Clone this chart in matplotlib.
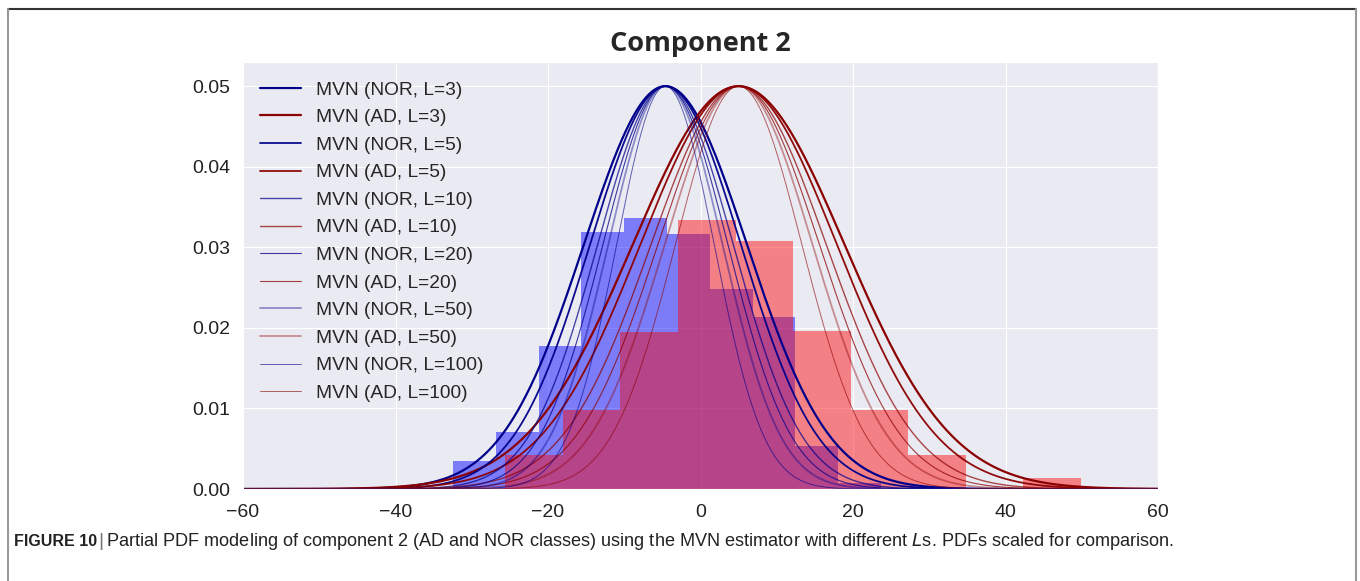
import numpy as np
import matplotlib
matplotlib.use('Agg')
import matplotlib.pyplot as plt
import seaborn as sns
from matplotlib.lines import Line2D

sns.set_style('darkgrid')
plt.rcParams['font.family'] = ['Liberation Sans', 'DejaVu Sans']

# Histogram data
nor_edges = [-32.45, -26.84, -21.23, -15.62, -10.01, -4.40, 1.21, 6.82, 12.43, 18.04, 23.65]
nor_heights = [0.0035, 0.0071, 0.0177, 0.0319, 0.0336, 0.0317, 0.0248, 0.0213, 0.0053, 0.0008]
ad_edges = [-25.6, -18.05, -10.5, -2.95, 4.6, 12.15, 19.7, 27.25, 34.8, 42.35, 49.9]
ad_heights = [0.0042, 0.0098, 0.0195, 0.0334, 0.0308, 0.0196, 0.0098, 0.0042, 0.0, 0.0014]

# MVN fits, scaled so each peak is 0.05
L_values = [3, 5, 10, 20, 50, 100]
nor_mean = -4.6
ad_mean = 5.0
nor_sigma = [10.7, 9.9, 8.9, 8.2, 7.5, 6.4]
ad_sigma = [13.9, 12.9, 11.5, 10.6, 9.7, 8.3]
peak = 0.05

line_widths = [1.6, 1.3, 1.0, 0.8, 1.3, 0.7]
line_alphas = [1.0, 0.95, 0.7, 0.75, 0.4, 0.6]

fig = plt.figure(figsize=(13.6, 5.81), dpi=100)
ax = fig.add_axes([243 / 1360, 1 - 489 / 581, 915 / 1360, 427 / 581])

ax.bar(nor_edges[:-1], nor_heights, width=np.diff(nor_edges), align='edge',
       color='blue', alpha=0.47, linewidth=0)
ax.bar(ad_edges[:-1], ad_heights, width=np.diff(ad_edges), align='edge',
       color='red', alpha=0.45, linewidth=0)

x = np.linspace(-60, 60, 1000)
for i, L in enumerate(L_values):
    y_nor = peak * np.exp(-0.5 * ((x - nor_mean) / nor_sigma[i]) ** 2)
    y_ad = peak * np.exp(-0.5 * ((x - ad_mean) / ad_sigma[i]) ** 2)
    ax.plot(x, y_nor, color='darkblue', lw=line_widths[i], alpha=line_alphas[i],
            label='MVN (NOR, L=%d)' % L)
    ax.plot(x, y_ad, color='darkred', lw=line_widths[i], alpha=line_alphas[i],
            label='MVN (AD, L=%d)' % L)

ax.set_xlim(-60, 60)
ax.set_ylim(0, 0.053)
ax.set_xticks([-60, -40, -20, 0, 20, 40, 60])
ax.set_xticklabels(['\u221260', '\u221240', '\u221220', '0', '20', '40', '60'])
ax.set_yticks([0, 0.01, 0.02, 0.03, 0.04, 0.05])
ax.set_yticklabels(['0.00', '0.01', '0.02', '0.03', '0.04', '0.05'])
ax.tick_params(labelsize=14, colors='#222222')
ax.tick_params(axis='y', pad=5.5)
ax.tick_params(axis='x', pad=7)
ax.set_title('Component 2', fontsize=19.5, fontweight='bold', family='Open Sans', pad=8)

ax.legend(loc='upper left', bbox_to_anchor=(-0.0025, 1.0), fontsize=13.8, frameon=False,
          handlelength=2.15, handletextpad=0.8, labelspacing=0.53, borderaxespad=0.6)

# journal frame
fig.add_artist(Line2D([8 / 1360, 1356 / 1360], [1 - 9 / 581, 1 - 9 / 581],
                      color='#333333', lw=1.5, transform=fig.transFigure))
fig.add_artist(Line2D([8 / 1360, 8 / 1360], [0, 1 - 9 / 581],
                      color='#999999', lw=1.5, transform=fig.transFigure))
fig.add_artist(Line2D([1356 / 1360, 1356 / 1360], [0, 1 - 9 / 581],
                      color='#999999', lw=1.5, transform=fig.transFigure))

fig.text(14 / 1360, 1 - 541 / 581, 'FIGURE 10', fontsize=11.5, fontweight='bold',
         color='#222222', va='center')
fig.text(98 / 1360, 1 - 541 / 581, '|', fontsize=14, color='#777777', va='center')
fig.text(106 / 1360, 1 - 541 / 581,
         'Partial PDF modeling of component 2 (AD and NOR classes) using the MVN estimator with different $\\mathit{L}$s. PDFs scaled for comparison.',
         fontsize=13.1, color='#222222', va='center')

fig.savefig('out.png', dpi=100)
